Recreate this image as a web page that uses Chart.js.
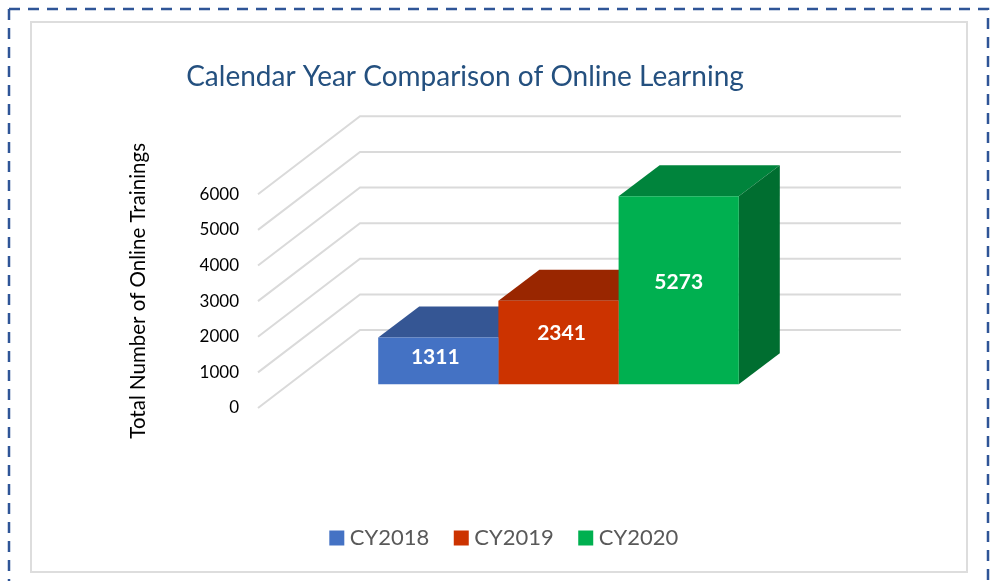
<!DOCTYPE html>
<html>
<head>
<meta charset="utf-8">
<style>html,body{margin:0;padding:0;background:#fff}canvas{display:block}</style>
<script src="https://cdn.jsdelivr.net/npm/chart.js@4"></script>
</head>
<body>
<canvas id="c" width="990" height="581"></canvas>
<script>
const categories = ["Online Learning"];
const seriesNames = ["CY2018", "CY2019", "CY2020"];
const values2018 = [1311];
const values2019 = [2341];
const values2020 = [5273];
const yTickValues = [0, 1000, 2000, 3000, 4000, 5000, 6000];
const frontColors = ["#4472C4", "#CC3300", "#00B050"];
const topColors = ["#355694", "#992600", "#00843C"];
const sideColors = ["#2A4676", "#7A1E00", "#006E30"];
const FONT = "Lato, Carlito, sans-serif";

const scene3d = {
  id: "scene3d",
  afterLayout(chart) {
    chart.titleBlock.left -= 14.5; chart.titleBlock.right -= 14.5;
    chart.legend.left += 27; chart.legend.right += 27;
  },
  beforeDraw(chart) {
    const c = chart.ctx;
    c.save();
    c.strokeStyle = "#DDDDDD"; c.lineWidth = 2;
    c.strokeRect(31, 22, 936, 550);
    c.strokeStyle = "#2F5597"; c.lineWidth = 2.5; c.setLineDash([11, 8]);
    c.beginPath(); c.moveTo(9, 9); c.lineTo(9, 590); c.stroke();
    c.beginPath(); c.moveTo(9, 9); c.lineTo(988, 9); c.lineTo(988, 590); c.stroke();
    c.restore();
  },
  beforeDatasetsDraw(chart) {
    const c = chart.ctx, y = chart.scales.y, left = chart.chartArea.left;
    c.save();
    c.strokeStyle = "#DADADA"; c.lineWidth = 2;
    y.ticks.forEach(t => {
      const py = y.getPixelForValue(t.value);
      c.beginPath(); c.moveTo(left, py); c.lineTo(left + 102, py - 78); c.lineTo(901, py - 78); c.stroke();
    });
    const dx = 41, dy = 31;
    chart.data.datasets.forEach((d, i) => {
      const b = chart.getDatasetMeta(i).data[0];
      const l = b.x - b.width / 2, r = b.x + b.width / 2;
      c.fillStyle = topColors[i];
      c.beginPath(); c.moveTo(l, b.y); c.lineTo(l + dx, b.y - dy); c.lineTo(r + dx, b.y - dy); c.lineTo(r, b.y); c.closePath(); c.fill();
      c.fillStyle = sideColors[i];
      c.beginPath(); c.moveTo(r, b.y); c.lineTo(r + dx, b.y - dy); c.lineTo(r + dx, b.base - dy); c.lineTo(r, b.base); c.closePath(); c.fill();
    });
    c.restore();
  },
  afterDatasetsDraw(chart) {
    const c = chart.ctx, nudgeX = [-3, 3, 0], nudgeY = [-4, -9, -8];
    c.save();
    c.fillStyle = "#fff"; c.font = "bold 21px " + FONT;
    c.textAlign = "center"; c.textBaseline = "middle";
    chart.data.datasets.forEach((d, i) => {
      const b = chart.getDatasetMeta(i).data[0];
      c.fillText(String(d.data[0]), b.x + nudgeX[i], (b.y + b.base) / 2 + nudgeY[i]);
    });
    c.restore();
  }
};

new Chart(document.getElementById("c"), {
  type: "bar",
  data: {
    labels: categories,
    datasets: [
      { label: seriesNames[0], data: values2018, backgroundColor: frontColors[0], yAxisID: "yBars" },
      { label: seriesNames[1], data: values2019, backgroundColor: frontColors[1], yAxisID: "yBars" },
      { label: seriesNames[2], data: values2020, backgroundColor: frontColors[2], yAxisID: "yBars" }
    ]
  },
  options: {
    responsive: false,
    animation: false,
    events: [],
    barPercentage: 1,
    categoryPercentage: 0.6,
    layout: { padding: { left: 100, right: 131, top: 0, bottom: 22 } },
    scales: {
      x: {
        display: true,
        grid: { display: false, drawTicks: false },
        border: { display: false },
        ticks: { display: false },
        afterFit: s => { s.height = 89; }
      },
      y: {
        position: "left",
        min: 0, max: 6580,
        afterFit: s => { s.width = 158; },
        afterBuildTicks: s => { s.ticks = yTickValues.map(v => ({ value: v })); },
        grid: { display: false, drawTicks: false },
        border: { display: false },
        ticks: { padding: 19, color: "#000", font: { family: FONT, size: 17 }, callback: v => String(v) },
        title: { display: true, text: "Total Number of Online Trainings", color: "#000", font: { family: FONT, size: 20.5 }, padding: { top: 26, bottom: 0 } }
      },
      yBars: { display: false, min: -670, max: 5910 }
    },
    plugins: {
      tooltip: { enabled: false },
      title: {
        display: true,
        text: "Calendar Year Comparison of Online Learning",
        color: "#24507F",
        font: { family: FONT, size: 28, weight: "normal" },
        padding: { top: 60, bottom: 80 }
      },
      legend: {
        position: "bottom",
        labels: {
          color: "#595959",
          font: { family: FONT, size: 22 },
          boxWidth: 4, boxHeight: 4, padding: 30,
          generateLabels: chart => Chart.defaults.plugins.legend.labels.generateLabels(chart)
            .map(l => ({ ...l, lineWidth: 11, strokeStyle: l.fillStyle }))
        }
      }
    }
  },
  plugins: [scene3d]
});
</script>
</body>
</html>
